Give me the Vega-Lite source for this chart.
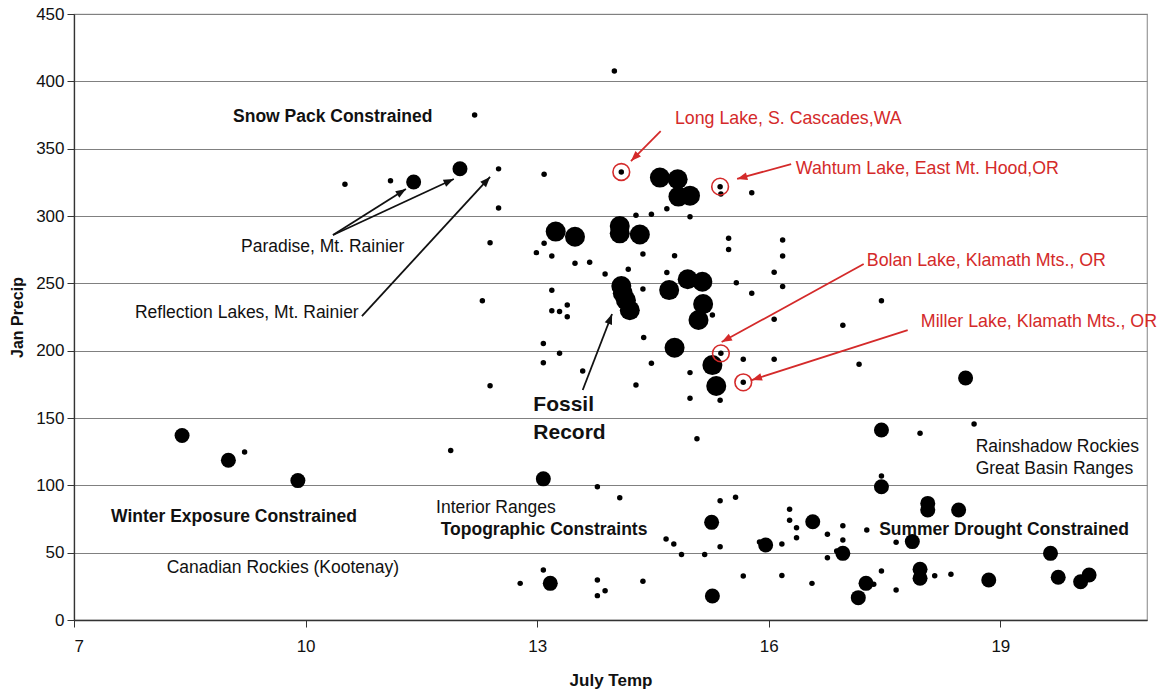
{
  "$schema": "https://vega.github.io/schema/vega-lite/v6.json",
  "width": 1073,
  "height": 606,
  "autosize": {"type": "none"},
  "padding": {"left": 74, "top": 14, "right": 12, "bottom": 74},
  "background": "white",
  "config": {
    "view": {"stroke": "#9a9a9a", "strokeWidth": 1.2},
    "font": "Liberation Sans",
    "axis": {"labelFont": "Liberation Sans", "titleFont": "Liberation Sans", "labelColor": "#111", "titleColor": "#111"}
  },
  "datasets": {
    "pts": [
      {"t": 9.21, "p": 124.7, "cls": "small"},
      {"t": 10.51, "p": 323.5, "cls": "small"},
      {"t": 11.10, "p": 326.2, "cls": "small"},
      {"t": 12.19, "p": 375, "cls": "small"},
      {"t": 12.50, "p": 335, "cls": "small"},
      {"t": 12.50, "p": 306, "cls": "small"},
      {"t": 13.09, "p": 331, "cls": "small"},
      {"t": 14.00, "p": 407.7, "cls": "small"},
      {"t": 14.09, "p": 332.7, "cls": "small", "site": "Long Lake"},
      {"t": 15.37, "p": 321.8, "cls": "small", "site": "Wahtum Lake"},
      {"t": 15.38, "p": 316.3, "cls": "small"},
      {"t": 15.78, "p": 317.3, "cls": "small"},
      {"t": 14.28, "p": 300.5, "cls": "small"},
      {"t": 14.48, "p": 301.3, "cls": "small"},
      {"t": 14.68, "p": 305.4, "cls": "small"},
      {"t": 14.98, "p": 299.5, "cls": "small"},
      {"t": 12.39, "p": 280.2, "cls": "small"},
      {"t": 13.09, "p": 279.7, "cls": "small"},
      {"t": 12.99, "p": 272.8, "cls": "small"},
      {"t": 13.19, "p": 270.3, "cls": "small"},
      {"t": 13.49, "p": 264.9, "cls": "small"},
      {"t": 13.68, "p": 265.6, "cls": "small"},
      {"t": 13.88, "p": 256.9, "cls": "small"},
      {"t": 14.18, "p": 260.4, "cls": "small"},
      {"t": 14.37, "p": 271.8, "cls": "small"},
      {"t": 14.78, "p": 270.5, "cls": "small"},
      {"t": 15.48, "p": 283.4, "cls": "small"},
      {"t": 15.48, "p": 275.2, "cls": "small"},
      {"t": 16.18, "p": 282.2, "cls": "small"},
      {"t": 16.18, "p": 270.3, "cls": "small"},
      {"t": 16.07, "p": 258.2, "cls": "small"},
      {"t": 14.68, "p": 258.0, "cls": "small"},
      {"t": 15.58, "p": 250.5, "cls": "small"},
      {"t": 16.18, "p": 247.6, "cls": "small"},
      {"t": 15.78, "p": 242.6, "cls": "small"},
      {"t": 13.19, "p": 244.8, "cls": "small"},
      {"t": 14.37, "p": 245.8, "cls": "small"},
      {"t": 17.46, "p": 237.1, "cls": "small"},
      {"t": 16.07, "p": 223.3, "cls": "small"},
      {"t": 16.96, "p": 218.8, "cls": "small"},
      {"t": 17.17, "p": 189.9, "cls": "small"},
      {"t": 15.67, "p": 193.6, "cls": "small"},
      {"t": 16.07, "p": 193.6, "cls": "small"},
      {"t": 15.38, "p": 198.0, "cls": "small", "site": "Bolan Lake"},
      {"t": 15.67, "p": 176.5, "cls": "small", "site": "Miller Lake"},
      {"t": 15.27, "p": 226.5, "cls": "small"},
      {"t": 13.19, "p": 229.7, "cls": "small"},
      {"t": 13.29, "p": 229.0, "cls": "small"},
      {"t": 13.39, "p": 233.9, "cls": "small"},
      {"t": 13.39, "p": 225.2, "cls": "small"},
      {"t": 13.08, "p": 205.4, "cls": "small"},
      {"t": 13.29, "p": 198.0, "cls": "small"},
      {"t": 13.08, "p": 191.1, "cls": "small"},
      {"t": 13.59, "p": 184.9, "cls": "small"},
      {"t": 14.38, "p": 209.7, "cls": "small"},
      {"t": 14.48, "p": 190.6, "cls": "small"},
      {"t": 14.28, "p": 174.5, "cls": "small"},
      {"t": 14.98, "p": 183.7, "cls": "small"},
      {"t": 14.98, "p": 164.6, "cls": "small"},
      {"t": 15.37, "p": 163.1, "cls": "small"},
      {"t": 15.07, "p": 134.6, "cls": "small"},
      {"t": 12.29, "p": 237.1, "cls": "small"},
      {"t": 12.39, "p": 174.0, "cls": "small"},
      {"t": 11.88, "p": 125.9, "cls": "small"},
      {"t": 13.78, "p": 99.0, "cls": "small"},
      {"t": 14.07, "p": 90.8, "cls": "small"},
      {"t": 15.37, "p": 88.6, "cls": "small"},
      {"t": 15.57, "p": 91.1, "cls": "small"},
      {"t": 14.67, "p": 60.1, "cls": "small"},
      {"t": 14.77, "p": 56.4, "cls": "small"},
      {"t": 14.87, "p": 48.7, "cls": "small"},
      {"t": 15.17, "p": 48.7, "cls": "small"},
      {"t": 15.37, "p": 54.4, "cls": "small"},
      {"t": 15.88, "p": 58.0, "cls": "small"},
      {"t": 13.08, "p": 37.1, "cls": "small"},
      {"t": 12.78, "p": 27.2, "cls": "small"},
      {"t": 13.78, "p": 29.7, "cls": "small"},
      {"t": 13.78, "p": 18.1, "cls": "small"},
      {"t": 13.88, "p": 21.8, "cls": "small"},
      {"t": 14.37, "p": 28.7, "cls": "small"},
      {"t": 15.67, "p": 32.7, "cls": "small"},
      {"t": 16.27, "p": 82.2, "cls": "small"},
      {"t": 16.27, "p": 74.0, "cls": "small"},
      {"t": 16.36, "p": 68.5, "cls": "small"},
      {"t": 16.36, "p": 61.1, "cls": "small"},
      {"t": 16.17, "p": 56.4, "cls": "small"},
      {"t": 16.17, "p": 33.0, "cls": "small"},
      {"t": 17.96, "p": 138.6, "cls": "small"},
      {"t": 18.66, "p": 145.5, "cls": "small"},
      {"t": 17.46, "p": 106.9, "cls": "small"},
      {"t": 16.76, "p": 63.6, "cls": "small"},
      {"t": 16.96, "p": 70.0, "cls": "small"},
      {"t": 16.96, "p": 59.4, "cls": "small"},
      {"t": 17.27, "p": 66.8, "cls": "small"},
      {"t": 16.76, "p": 46.3, "cls": "small"},
      {"t": 16.88, "p": 51.2, "cls": "small"},
      {"t": 17.65, "p": 57.7, "cls": "small"},
      {"t": 16.56, "p": 27.2, "cls": "small"},
      {"t": 17.46, "p": 36.4, "cls": "small"},
      {"t": 17.36, "p": 26.5, "cls": "small"},
      {"t": 17.65, "p": 22.3, "cls": "small"},
      {"t": 18.15, "p": 32.9, "cls": "small"},
      {"t": 18.36, "p": 33.9, "cls": "small"},
      {"t": 8.40, "p": 137.0, "cls": "medium"},
      {"t": 9.00, "p": 118.6, "cls": "medium"},
      {"t": 9.90, "p": 103.5, "cls": "medium"},
      {"t": 11.40, "p": 325.2, "cls": "medium"},
      {"t": 12.00, "p": 335.1, "cls": "medium"},
      {"t": 13.08, "p": 104.8, "cls": "medium"},
      {"t": 15.26, "p": 72.5, "cls": "medium"},
      {"t": 15.96, "p": 55.7, "cls": "medium"},
      {"t": 13.17, "p": 27.2, "cls": "medium"},
      {"t": 15.27, "p": 17.8, "cls": "medium"},
      {"t": 18.55, "p": 179.7, "cls": "medium"},
      {"t": 17.46, "p": 141.1, "cls": "medium"},
      {"t": 17.46, "p": 99.0, "cls": "medium"},
      {"t": 18.06, "p": 86.6, "cls": "medium"},
      {"t": 18.06, "p": 81.7, "cls": "medium"},
      {"t": 18.46, "p": 81.7, "cls": "medium"},
      {"t": 16.57, "p": 73.0, "cls": "medium"},
      {"t": 16.96, "p": 49.5, "cls": "medium"},
      {"t": 17.86, "p": 58.2, "cls": "medium"},
      {"t": 17.26, "p": 27.2, "cls": "medium"},
      {"t": 17.16, "p": 16.6, "cls": "medium"},
      {"t": 17.96, "p": 37.6, "cls": "medium"},
      {"t": 17.96, "p": 31.0, "cls": "medium"},
      {"t": 18.85, "p": 29.7, "cls": "medium"},
      {"t": 19.65, "p": 49.5, "cls": "medium"},
      {"t": 19.75, "p": 31.7, "cls": "medium"},
      {"t": 20.04, "p": 28.4, "cls": "medium"},
      {"t": 20.15, "p": 33.4, "cls": "medium"},
      {"t": 14.59, "p": 328.5, "cls": "large"},
      {"t": 14.82, "p": 327.3, "cls": "large"},
      {"t": 14.83, "p": 314.4, "cls": "large"},
      {"t": 14.98, "p": 315.1, "cls": "large"},
      {"t": 13.24, "p": 288.4, "cls": "large"},
      {"t": 13.49, "p": 284.6, "cls": "large"},
      {"t": 14.07, "p": 292.5, "cls": "large"},
      {"t": 14.07, "p": 287.1, "cls": "large"},
      {"t": 14.33, "p": 286.3, "cls": "large"},
      {"t": 14.09, "p": 248.0, "cls": "large"},
      {"t": 14.11, "p": 242.6, "cls": "large"},
      {"t": 14.15, "p": 237.4, "cls": "large"},
      {"t": 14.20, "p": 230.0, "cls": "large"},
      {"t": 14.71, "p": 245.0, "cls": "large"},
      {"t": 14.95, "p": 253.0, "cls": "large"},
      {"t": 15.14, "p": 251.2, "cls": "large"},
      {"t": 15.15, "p": 234.6, "cls": "large"},
      {"t": 15.09, "p": 222.8, "cls": "large"},
      {"t": 14.78, "p": 202.2, "cls": "large"},
      {"t": 15.27, "p": 189.3, "cls": "large"},
      {"t": 15.32, "p": 173.8, "cls": "large"}
    ],
    "arrows": [
      {"id": "paradise1", "kind": "black", "x": 10.355, "y": 285.9, "x2": 11.30, "y2": 320.0},
      {"id": "paradise2", "kind": "black", "x": 10.355, "y": 285.9, "x2": 11.92, "y2": 327.5},
      {"id": "reflection", "kind": "black", "x": 10.73, "y": 225.7, "x2": 12.39, "y2": 329.0},
      {"id": "fossil", "kind": "black", "x": 13.59, "y": 170.8, "x2": 13.97, "y2": 227.2},
      {"id": "long", "kind": "red", "x": 14.60, "y": 363.1, "x2": 14.215, "y2": 340.8},
      {"id": "wahtum", "kind": "red", "x": 16.29, "y": 338.6, "x2": 15.59, "y2": 327.5},
      {"id": "bolan", "kind": "red", "x": 17.23, "y": 264.3, "x2": 15.39, "y2": 206.4},
      {"id": "miller", "kind": "red", "x": 17.80, "y": 215.3, "x2": 15.78, "y2": 178.2}
    ],
    "labels": [
      {"x": 9.06, "y": 373.5, "text": "Snow Pack Constrained", "group": "region"},
      {"x": 9.163, "y": 277.0, "text": "Paradise, Mt. Rainier", "group": "place"},
      {"x": 7.79, "y": 228.0, "text": "Reflection Lakes, Mt. Rainier", "group": "place"},
      {"x": 12.95, "y": 159.6, "text": "Fossil", "group": "fossil"},
      {"x": 12.95, "y": 138.9, "text": "Record", "group": "fossil"},
      {"x": 14.785, "y": 372.0, "text": "Long Lake, S. Cascades,WA", "group": "site"},
      {"x": 16.35, "y": 334.9, "text": "Wahtum Lake, East Mt. Hood,OR", "group": "site"},
      {"x": 17.27, "y": 266.6, "text": "Bolan Lake, Klamath Mts., OR", "group": "site"},
      {"x": 17.97, "y": 221.3, "text": "Miller Lake, Klamath Mts., OR", "group": "site"},
      {"x": 18.68, "y": 128.5, "text": "Rainshadow Rockies", "group": "place"},
      {"x": 18.68, "y": 112.1, "text": "Great Basin Ranges", "group": "place"},
      {"x": 17.43, "y": 66.8, "text": "Summer Drought Constrained", "group": "region"},
      {"x": 11.69, "y": 83.5, "text": "Interior Ranges", "group": "place"},
      {"x": 11.75, "y": 66.8, "text": "Topographic Constraints", "group": "region"},
      {"x": 7.48, "y": 76.5, "text": "Winter Exposure Constrained", "group": "region"},
      {"x": 8.20, "y": 38.6, "text": "Canadian Rockies (Kootenay)", "group": "place"}
    ]
  },
  "layer": [
    {
      "data": {"name": "pts"},
      "mark": {"type": "point", "filled": true, "opacity": 1, "color": "#000", "strokeWidth": 0},
      "encoding": {
        "x": {"field": "t", "type": "quantitative", "scale": {"domain": [7, 20.9], "nice": false, "zero": false},
          "axis": {"values": [7, 10, 13, 16, 19], "format": "d", "grid": false, "title": "July Temp", "titleFontSize": 17, "titleFontWeight": "bold", "titlePadding": 18, "labelFontSize": 17, "labelPadding": 11, "tickSize": 7, "tickColor": "#333", "domainColor": "#333", "domainWidth": 1.3}},
        "y": {"field": "p", "type": "quantitative", "scale": {"domain": [0, 450], "nice": false},
          "axis": {"values": [0, 50, 100, 150, 200, 250, 300, 350, 400, 450], "format": "d", "grid": true, "gridColor": "#808080", "gridWidth": 1.1, "title": "Jan Precip", "titleFontSize": 16, "titleFontWeight": "bold", "titlePadding": 10, "labelFontSize": 17, "labelPadding": 3, "tickSize": 7, "tickColor": "#333", "domainColor": "#333", "domainWidth": 1.3}},
        "size": {"field": "cls", "type": "nominal", "scale": {"type": "ordinal", "domain": ["small", "medium", "large"], "range": [30, 225, 400]}, "legend": null}
      }
    },
    {
      "data": {"name": "pts"},
      "transform": [{"filter": "isValid(datum.site)"}],
      "mark": {"type": "point", "filled": false, "color": "#d42a2a", "strokeWidth": 1.6, "size": 280, "opacity": 1},
      "encoding": {"x": {"field": "t", "type": "quantitative"}, "y": {"field": "p", "type": "quantitative"}}
    },
    {
      "data": {"name": "arrows"},
      "mark": {"type": "rule", "strokeWidth": 1.8},
      "encoding": {
        "x": {"field": "x", "type": "quantitative"}, "y": {"field": "y", "type": "quantitative"},
        "x2": {"field": "x2"}, "y2": {"field": "y2"},
        "color": {"field": "kind", "type": "nominal", "scale": {"domain": ["black", "red"], "range": ["#111111", "#d42a2a"]}, "legend": null}
      }
    },
    {"data": {"name": "arrows"}, "transform": [{"filter": "datum.id == 'paradise1'"}], "mark": {"type": "point", "shape": "M0,0L0.38,1L-0.38,1Z", "filled": true, "opacity": 1, "size": 420, "color": "#111", "angle": 57.8}, "encoding": {"x": {"field": "x2", "type": "quantitative"}, "y": {"field": "y2", "type": "quantitative"}}},
    {"data": {"name": "arrows"}, "transform": [{"filter": "datum.id == 'paradise2'"}], "mark": {"type": "point", "shape": "M0,0L0.38,1L-0.38,1Z", "filled": true, "opacity": 1, "size": 420, "color": "#111", "angle": 65.2}, "encoding": {"x": {"field": "x2", "type": "quantitative"}, "y": {"field": "y2", "type": "quantitative"}}},
    {"data": {"name": "arrows"}, "transform": [{"filter": "datum.id == 'reflection'"}], "mark": {"type": "point", "shape": "M0,0L0.38,1L-0.38,1Z", "filled": true, "opacity": 1, "size": 420, "color": "#111", "angle": 42.6}, "encoding": {"x": {"field": "x2", "type": "quantitative"}, "y": {"field": "y2", "type": "quantitative"}}},
    {"data": {"name": "arrows"}, "transform": [{"filter": "datum.id == 'fossil'"}], "mark": {"type": "point", "shape": "M0,0L0.38,1L-0.38,1Z", "filled": true, "opacity": 1, "size": 420, "color": "#111", "angle": 20.9}, "encoding": {"x": {"field": "x2", "type": "quantitative"}, "y": {"field": "y2", "type": "quantitative"}}},
    {"data": {"name": "arrows"}, "transform": [{"filter": "datum.id == 'long'"}], "mark": {"type": "point", "shape": "M0,0L0.38,1L-0.38,1Z", "filled": true, "opacity": 1, "size": 420, "color": "#d42a2a", "angle": 225}, "encoding": {"x": {"field": "x2", "type": "quantitative"}, "y": {"field": "y2", "type": "quantitative"}}},
    {"data": {"name": "arrows"}, "transform": [{"filter": "datum.id == 'wahtum'"}], "mark": {"type": "point", "shape": "M0,0L0.38,1L-0.38,1Z", "filled": true, "opacity": 1, "size": 420, "color": "#d42a2a", "angle": 254.5}, "encoding": {"x": {"field": "x2", "type": "quantitative"}, "y": {"field": "y2", "type": "quantitative"}}},
    {"data": {"name": "arrows"}, "transform": [{"filter": "datum.id == 'bolan'"}], "mark": {"type": "point", "shape": "M0,0L0.38,1L-0.38,1Z", "filled": true, "opacity": 1, "size": 420, "color": "#d42a2a", "angle": 241.2}, "encoding": {"x": {"field": "x2", "type": "quantitative"}, "y": {"field": "y2", "type": "quantitative"}}},
    {"data": {"name": "arrows"}, "transform": [{"filter": "datum.id == 'miller'"}], "mark": {"type": "point", "shape": "M0,0L0.38,1L-0.38,1Z", "filled": true, "opacity": 1, "size": 420, "color": "#d42a2a", "angle": 252.2}, "encoding": {"x": {"field": "x2", "type": "quantitative"}, "y": {"field": "y2", "type": "quantitative"}}},
    {
      "data": {"name": "labels"},
      "transform": [{"filter": "datum.group == 'region'"}],
      "mark": {"type": "text", "align": "left", "baseline": "middle", "fontSize": 17.5, "fontWeight": "bold", "color": "#111", "font": "Liberation Sans"},
      "encoding": {"x": {"field": "x", "type": "quantitative"}, "y": {"field": "y", "type": "quantitative"}, "text": {"field": "text"}}
    },
    {
      "data": {"name": "labels"},
      "transform": [{"filter": "datum.group == 'place'"}],
      "mark": {"type": "text", "align": "left", "baseline": "middle", "fontSize": 17.5, "color": "#111", "font": "Liberation Sans"},
      "encoding": {"x": {"field": "x", "type": "quantitative"}, "y": {"field": "y", "type": "quantitative"}, "text": {"field": "text"}}
    },
    {
      "data": {"name": "labels"},
      "transform": [{"filter": "datum.group == 'site'"}],
      "mark": {"type": "text", "align": "left", "baseline": "middle", "fontSize": 17.8, "color": "#d42a2a", "font": "Liberation Sans"},
      "encoding": {"x": {"field": "x", "type": "quantitative"}, "y": {"field": "y", "type": "quantitative"}, "text": {"field": "text"}}
    },
    {
      "data": {"name": "labels"},
      "transform": [{"filter": "datum.group == 'fossil'"}],
      "mark": {"type": "text", "align": "left", "baseline": "middle", "fontSize": 21, "fontWeight": "bold", "color": "#111", "font": "Liberation Sans"},
      "encoding": {"x": {"field": "x", "type": "quantitative"}, "y": {"field": "y", "type": "quantitative"}, "text": {"field": "text"}}
    }
  ]
}
